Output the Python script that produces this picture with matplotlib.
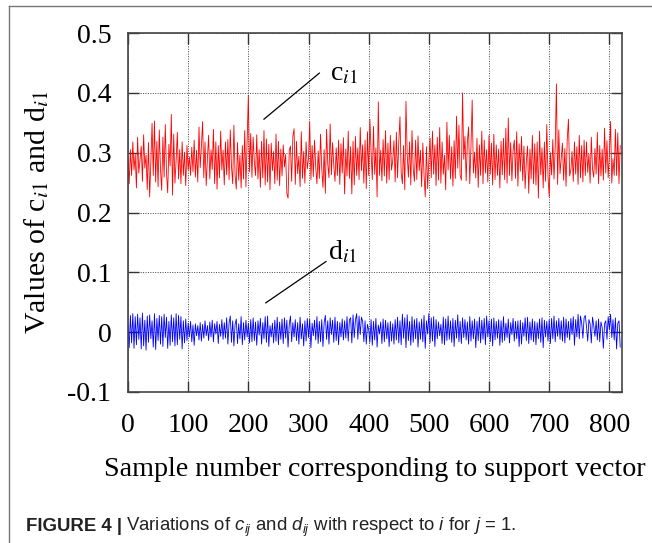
import numpy as np
import matplotlib
matplotlib.use("Agg")
import matplotlib.pyplot as plt
from matplotlib.lines import Line2D

plt.rcParams['font.family'] = ['Liberation Serif', 'DejaVu Serif']
plt.rcParams['mathtext.fontset'] = 'custom'
plt.rcParams['mathtext.rm'] = 'Liberation Sans'
plt.rcParams['mathtext.it'] = 'Liberation Sans:italic'

# values (every 2nd sample), in thousandths
c_i1 = [
    292, 248, 305, 262, 318, 271, 297, 241, 326, 266, 289, 311, 252, 330, 274, 296, 238, 317, 226, 284,
    349, 262, 353, 251, 319, 243, 338, 272, 237, 326, 259, 347, 266, 233, 314, 278, 364, 229, 331, 249,
    287, 334, 256, 305, 248, 318, 262, 301, 245, 312, 271, 293, 262, 309, 268, 321, 259, 304, 251, 343,
    275, 311, 352, 258, 318, 245, 290, 329, 256, 305, 272, 339, 248, 318, 239, 312, 258, 336, 271, 304,
    246, 318, 263, 322, 255, 338, 277, 248, 346, 262, 239, 317, 254, 296, 241, 312, 256, 337, 243, 321,
    396, 268, 332, 259, 326, 284, 262, 330, 256, 305, 242, 319, 258, 337, 246, 323, 251, 314, 238, 316,
    270, 302, 248, 331, 254, 319, 245, 306, 261, 313, 276, 297, 232, 224, 304, 311, 252, 327, 340, 247,
    319, 265, 294, 243, 335, 257, 302, 249, 318, 273, 290, 352, 255, 312, 260, 321, 276, 248, 303, 257,
    331, 274, 242, 305, 232, 339, 282, 258, 348, 263, 317, 279, 252, 308, 262, 321, 247, 315, 266, 325,
    231, 306, 261, 336, 257, 310, 231, 319, 246, 327, 262, 308, 255, 342, 270, 313, 249, 321, 240, 335,
    262, 356, 301, 255, 344, 264, 308, 226, 385, 262, 304, 253, 322, 261, 337, 249, 316, 255, 329, 271,
    287, 320, 251, 334, 258, 317, 360, 266, 248, 312, 238, 386, 297, 259, 318, 246, 337, 274, 252, 321,
    255, 328, 270, 304, 243, 316, 263, 226, 310, 240, 287, 324, 258, 336, 264, 313, 245, 326, 254, 342,
    249, 318, 264, 296, 238, 351, 271, 329, 256, 310, 244, 320, 257, 361, 274, 346, 262, 254, 400, 289,
    327, 253, 318, 343, 248, 310, 388, 266, 301, 258, 324, 242, 313, 262, 336, 248, 321, 266, 305, 251,
    329, 264, 316, 246, 331, 255, 313, 262, 306, 241, 319, 263, 324, 255, 341, 249, 358, 262, 317, 253,
    304, 321, 257, 335, 244, 315, 269, 327, 253, 311, 240, 286, 311, 232, 306, 256, 329, 248, 315, 246,
    318, 224, 336, 263, 308, 241, 318, 252, 347, 261, 226, 300, 263, 322, 256, 309, 415, 247, 338, 265,
    291, 316, 254, 307, 244, 323, 356, 261, 271, 302, 252, 318, 264, 310, 247, 329, 258, 312, 251, 321,
    262, 318, 267, 298, 249, 326, 272, 259, 307, 264, 334, 248, 312, 261, 306, 254, 341, 266, 320, 258,
    297, 352, 249, 290, 262, 339, 262, 333, 248, 312,
]

d_i1 = [
    12, -26, 28, -18, 31, -27, 26, -21, 30, -12, 24, -28, 32, -23, 20, -30, 27, -17, 29, -11,
    19, -25, 31, -29, 23, -14, 28, -20, 26, -24, 30, -9, 25, -27, 18, -22, 29, -16, 24, -23,
    31, -21, 28, -12, 26, -28, 19, -18, 22, -14, 15, -8, 18, -16, 12, -22, 14, -6, 11, -13,
    16, -15, 13, -10, 19, -6, 11, -14, 17, -8, 20, -16, 14, -3, 18, -19, 13, -7, 21, -12,
    16, -10, 24, -20, 15, 27, -17, 19, -23, 13, 22, -19, 14, -11, 26, -21, 16, -13, 20, -8,
    15, -18, 21, -16, 24, -14, 17, -22, 19, -5, 23, -20, 16, -11, 26, -17, 27, -24, 11, -8,
    15, -18, 20, -15, 25, -21, 17, -12, 22, -19, 24, -10, 20, -25, 13, 27, -16, 16, -8, 21,
    -14, 16, -20, 25, -11, 14, -23, 19, -15, 23, -9, 22, -26, 15, -6, 20, -13, 26, -19, 18,
    -16, 21, -24, 16, 28, -12, 19, -20, 24, -4, 20, -17, 25, -14, 18, -21, 16, -8, 22, -13,
    19, -10, 26, -15, 21, 24, -18, 29, -9, 20, 31, -12, 27, -4, 25, 18, -16, 19, -20, 13,
    4, -17, 21, -22, 18, -13, 23, -25, 12, -3, 17, -19, 22, -16, 20, -11, 16, -24, 18, -15,
    14, -20, 21, -13, 25, -18, 19, -21, 30, -10, 24, -26, 29, -14, 18, -22, 26, -17, 21, -11,
    23, -25, 17, -12, 22, -16, 28, -27, 19, -3, 31, -18, 24, -15, 26, -24, 21, -11, 17, -6,
    13, -19, 25, -21, 22, -14, 27, -12, 19, -17, 23, -24, 20, -10, 29, -16, 18, -19, 24, -9,
    21, -13, 17, -20, 26, -15, 19, -11, 22, -26, 18, -14, 25, -18, 20, -12, 23, -21, 27, -8,
    19, -16, 22, -23, 24, -13, 18, -10, 21, -22, 19, -17, 26, -14, 15, -9, 22, -18, 16, -4,
    23, -15, 18, -11, 19, -24, 20, -20, 16, -7, 24, -14, 25, -19, 17, -13, 22, -16, 18, -21,
    16, -11, 22, -17, 24, -26, 20, -8, 18, -15, 21, -19, 23, -11, 27, -16, 19, -7, 23, -12,
    19, -15, 25, -18, 22, -9, 18, -13, 23, -4, 26, -22, 21, -8, 30, -11, 27, 15, -10, 24,
    28, 9, -15, 21, 14, -18, 25, 11, -7, 19, -13, 22, -16, 17, 8, -27, 14, 19, -12, 26,
    4, 30, -9, 21, -13, 24, -28, 15, 19, -25,
]

sample_step = 2
x_ticks = [0, 100, 200, 300, 400, 500, 600, 700, 800]
y_ticks = [-0.1, 0, 0.1, 0.2, 0.3, 0.4, 0.5]
y_tick_labels = ['-0.1', '0', '0.1', '0.2', '0.3', '0.4', '0.5']

c = np.array(c_i1) / 1000.0
d = np.array(d_i1) / 1000.0
samples = np.arange(len(c)) * sample_step

fig = plt.figure(figsize=(6.52, 5.43), dpi=100)
ax = fig.add_axes([0.1963, 0.2781, 0.7577, 0.6611])

ax.plot(samples, c, color='#ff0000', lw=0.6)
ax.plot(samples, d, color='#0000ff', lw=0.6)

ax.set_xlim(0, 821)
ax.set_ylim(-0.1, 0.5)
ax.set_xticks(x_ticks)
ax.set_yticks(y_ticks)
ax.set_yticklabels(y_tick_labels)
ax.tick_params(direction='in', length=8, width=1.0, top=True, right=True,
               labelsize=20, color='#333333')
ax.tick_params(axis='y', pad=12)
ax.tick_params(axis='x', pad=15)
ax.grid(True, linestyle=(0, (1, 1.5)), color='#444444', lw=0.7)
for s in ax.spines.values():
    s.set_color('#444444')
    s.set_linewidth(1.2)

ax.set_xlabel('Sample number corresponding to support vector', fontsize=20.2, labelpad=14)
ax.set_ylabel(r'Values of c$_{i\mathrm{1}}$ and d$_{i\mathrm{1}}$', fontsize=21.5, labelpad=12,
              math_fontfamily='stix')

# annotation leaders
ax.plot([226, 318], [0.356, 0.433], color='black', lw=0.9)
ax.plot([229, 329], [0.049, 0.118], color='black', lw=0.9)
ax.text(335, 0.421, r'c$_{i\mathrm{1}}$', fontsize=20, math_fontfamily='stix')
ax.text(333, 0.121, r'd$_{i\mathrm{1}}$', fontsize=20, math_fontfamily='stix')

# outer frame
fig.add_artist(Line2D([9 / 652, 9 / 652], [0, 1 - 6 / 543], color='#777777', lw=1.0))
fig.add_artist(Line2D([9 / 652, 1], [1 - 6 / 543, 1 - 6 / 543], color='#777777', lw=1.0))

# caption
t1 = fig.text(26 / 652, 1 - 531 / 543, 'FIGURE 4 |', family='Liberation Sans',
              weight='bold', fontsize=13.4, color='#222222')
fig.canvas.draw()
bb = t1.get_window_extent()
fig.text((bb.x1 + 4) / 652, 1 - 531 / 543,
         r'Variations of $c_{ij}$ and $d_{ij}$ with respect to $i$ for $j$ = 1.',
         family='Liberation Sans', fontsize=13.4, color='#222222')

plt.savefig('out.png', dpi=100)
